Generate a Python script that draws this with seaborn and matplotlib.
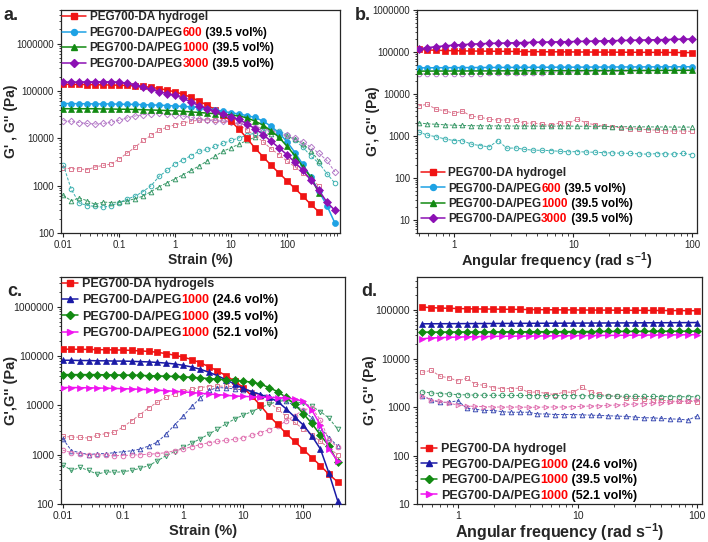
import numpy as np
import pandas as pd
import seaborn as sns
import matplotlib
matplotlib.use('Agg')
import matplotlib.pyplot as plt
from matplotlib.lines import Line2D

sns.set_style('ticks')
plt.rcParams['font.family'] = ['Liberation Sans', 'DejaVu Sans']
plt.rcParams['mathtext.default'] = 'regular'
plt.rcParams['axes.linewidth'] = 0.9
plt.rcParams['xtick.direction'] = 'out'
plt.rcParams['ytick.direction'] = 'out'

# strain sweep grid (%)
strain = [0.01, 0.0139, 0.0193, 0.0268, 0.0373, 0.0518, 0.072, 0.1, 0.139, 0.193, 0.268,
          0.373, 0.518, 0.72, 1.0, 1.39, 1.93, 2.68, 3.73, 5.18, 7.2, 10, 13.9, 19.3, 26.8,
          37.3, 51.8, 72, 100, 139, 193, 268, 373, 518, 720]

# panel a / c : G' and G'' vs strain
red_gp = [138000, 137000, 137000, 136000, 135000, 134000, 133000, 132000, 130000, 127000, 124000,
          119000, 112000, 104000, 95000, 85000, 73000, 61000, 50000, 40000, 31000, 23000, 15500,
          10000, 6200, 4100, 2700, 1850, 1270, 870, 600, 400, 280]
red_gpp = [2350, 2280, 2250, 2170, 2480, 2670, 2860, 3650, 4870, 6500, 9000, 11500, 14600, 17200,
           19200, 21000, 23000, 24000, 24500, 24500, 24000, 23000, 19000, 15000, 11500, 8500, 6000,
           4500, 3300, 2500, 1850, 1350, 1000]
cyan_gp = [54000, 54000, 53500, 53500, 53000, 53000, 53000, 52500, 52000, 52000, 51000, 50500,
           50000, 49000, 48000, 47000, 46000, 44500, 42000, 40000, 37000, 34500, 32500, 30000,
           27500, 23000, 18000, 13000, 8500, 5000, 2800, 1500, 760, 380, 163]
cyan_gpp = [2750, 830, 430, 380, 365, 350, 380, 440, 520, 600, 750, 1000, 1570, 2100, 2900, 3500,
            4300, 5300, 5800, 6700, 7800, 9000, 10200, 11500, 13000, 14500, 15000, 14500, 12000,
            9000, 6500, 4200, 3000, 1800, 1130]
green_gp = [42000, 42000, 42000, 42000, 42000, 41500, 41500, 41000, 41000, 40500, 40000, 39500,
            39000, 38500, 38000, 37000, 36000, 35000, 34000, 33000, 32000, 31000, 29500, 27000,
            23000, 19000, 14500, 10500, 6800, 4300, 2500, 1500, 700]
green_gpp = [620, 480, 550, 480, 400, 450, 440, 450, 480, 530, 600, 750, 950, 1150, 1400, 1700,
             2100, 2600, 3300, 4200, 5300, 6300, 7500, 9000, 10500, 12000, 12500, 12000, 11000,
             9500, 7500, 5500, 3300]
purple_gp = [152000, 153000, 154000, 155000, 155000, 155000, 155000, 153000, 145000, 134000,
             120000, 107000, 96000, 88000, 81000, 70000, 58000, 49000, 42000, 37000, 32000, 28000,
             25000, 20000, 16000, 12000, 8700, 6300, 4500, 3100, 2100, 1300, 800, 450, 300]
purple_gpp = [23700, 22600, 21500, 20500, 20000, 20500, 22000, 24000, 27000, 29500, 31500, 33000,
              33500, 33000, 31500, 29500, 27500, 25500, 24500, 23500, 23000, 22000, 20500, 19000,
              17500, 16000, 14500, 13000, 11500, 10000, 8200, 6500, 4800, 3400, 1950]
navy_gp = [82000, 82000, 81000, 81000, 80000, 80000, 79000, 79000, 78000, 77000, 76000, 74000,
           72000, 69000, 65000, 60000, 54000, 47000, 40000, 33000, 27000, 22000, 19000, 16500,
           14500, 12000, 8500, 5800, 4000, 2400, 1300, 420, 117]
navy_gpp = [2100, 1200, 1100, 1000, 1050, 1050, 1100, 1150, 1200, 1300, 1500, 1800, 2600, 4000,
            6000, 9500, 14000, 20000, 23000, 22500, 21500, 20500, 19000, 17000, 15500, 14000,
            12000, 10000, 8000, 5500, 3500, 2200, 1500]
pink_gp = [23000, 23000, 22800, 22700, 22500, 22300, 22000, 21800, 21500, 21200, 20800, 20300,
           19800, 19300, 18800, 18200, 17600, 17000, 16500, 16000, 15500, 15200, 15000, 14700,
           14500, 14300, 14000, 13500, 12000, 8000, 4000, 1300, 750]
pink_gpp = [1230, 1100, 1050, 1000, 1000, 980, 960, 960, 980, 1000, 1020, 1050, 1100, 1200, 1300,
            1450, 1600, 1750, 1850, 1950, 2050, 2200, 2450, 2800, 3200, 3800, 4800, 6200, 8000,
            9000, 5000, 2000, 1400]

# frequency sweep grid (rad/s)
freq = [0.5, 0.593, 0.704, 0.834, 0.99, 1.17, 1.39, 1.65, 1.96, 2.33, 2.76, 3.27, 3.88, 4.6,
        5.46, 6.48, 7.68, 9.12, 10.8, 12.8, 15.2, 18.1, 21.4, 25.4, 30.1, 35.7, 42.4, 50.3, 59.7,
        70.8, 84, 100]

# panel b / d : G' and G'' vs angular frequency
f_red_gp = [115000, 112000, 110000, 108500, 107500, 106500, 105500, 105000, 104500, 104000,
            103500, 103000, 102500, 102000, 101500, 101000, 101000, 100500, 100000, 100000, 99500,
            99500, 99000, 99000, 98500, 98500, 98000, 98000, 97500, 97500, 97000, 97000]
f_red_gpp = [5200, 5700, 4300, 4000, 3450, 3900, 2950, 2800, 2500, 2400, 2400, 2450, 2000, 2050,
             1900, 1800, 2050, 2000, 2550, 2050, 1850, 1700, 1650, 1550, 1500, 1480, 1400, 1380,
             1330, 1300, 1320, 1280]
f_cyan_gp = [42000, 42000, 42200, 42300, 42400, 42500, 42600, 42700, 42800, 42900, 43000, 43000,
             43100, 43200, 43300, 43400, 43500, 43500, 43600, 43700, 43800, 43800, 43900, 44000,
             44000, 44100, 44200, 44200, 44300, 44400, 44400, 44500]
f_cyan_gpp = [1250, 1050, 960, 850, 780, 770, 640, 590, 550, 780, 510, 520, 480, 460, 455, 450,
              430, 420, 425, 415, 410, 400, 395, 390, 385, 375, 370, 380, 375, 370, 390, 355]
f_green_gp = [35000, 35100, 35200, 35200, 35300, 35300, 35400, 35400, 35500, 35500, 35600, 35600,
              35700, 35700, 35800, 35800, 35900, 35900, 36000, 36000, 36100, 36100, 36200, 36200,
              36300, 36300, 36400, 36400, 36500, 36500, 36600, 36600]
f_green_gpp = [2050, 1950, 1900, 1850, 1800, 1780, 1760, 1750, 1740, 1740, 1730, 1730, 1720, 1720,
               1720, 1720, 1720, 1720, 1710, 1700, 1700, 1690, 1680, 1670, 1660, 1650, 1650, 1640,
               1640, 1630, 1630, 1630]
f_purple_gp = [118000, 127000, 134000, 140000, 146000, 150000, 154000, 157000, 160000, 162000,
               164000, 166000, 168000, 170000, 172000, 173000, 175000, 176000, 178000, 180000,
               182000, 184000, 186000, 188000, 190000, 192000, 194000, 196000, 198000, 200000,
               202000, 204000]
f_purple_gpp = [30000, 30000, 30000, 30100, 30200, 30300, 30500, 30700, 30900, 31100, 31300, 31500,
                31800, 32000, 32300, 32600, 32900, 33200, 33500, 33800, 34100, 34400, 34700, 35000,
                35300, 35600, 35900, 36200, 36500, 36800, 37100, 37400]
f_navy_gp = [52000, 52100, 52200, 52300, 52400, 52500, 52600, 52700, 52800, 52900, 53000, 53100,
             53200, 53300, 53400, 53500, 53600, 53700, 53800, 53900, 54000, 54100, 54200, 54300,
             54400, 54500, 54600, 54700, 54800, 54900, 55000, 55200]
f_navy_gpp = [1700, 1400, 1250, 1250, 1350, 950, 900, 850, 850, 800, 780, 780, 780, 720, 720, 700,
              700, 700, 690, 680, 670, 660, 650, 640, 620, 600, 600, 580, 570, 560, 540, 650]
f_pink_gp = [25600, 26500, 27000, 27400, 27700, 28000, 28200, 28400, 28600, 28800, 28900, 29000,
             29100, 29200, 29300, 29400, 29500, 29600, 29700, 29800, 29900, 30000, 30100, 30200,
             30300, 30400, 30500, 30600, 30700, 30800, 30900, 31000]
f_pink_gpp = [1700, 1400, 1300, 1200, 1100, 1050, 1030, 1020, 1000, 1000, 1000, 1000, 990, 990,
              1000, 1000, 1000, 1020, 1030, 1050, 1060, 1080, 1100, 1130, 1150, 1180, 1200, 1230,
              1260, 1300, 1330, 1380]

RED, RED_L = '#f01414', '#dc7890'
CYAN, CYAN_L = '#1ea2e4', '#3cb0b0'
GREEN, GREEN_L = '#128a12', '#3c9a6a'
PURPLE, PURPLE_L = '#8c10b4', '#b47ac8'
NAVY, NAVY_L = '#1a1aa6', '#4050b4'
MAG, MAG_L = '#f014f0', '#e070b0'


def curve(ax, x, y, color, marker, storage):
    df = pd.DataFrame({'x': x[:len(y)], 'y': y})
    if storage:
        sns.lineplot(data=df, x='x', y='y', ax=ax, color=color, marker=marker, markersize=4.3,
                     markeredgecolor=color, markeredgewidth=0.5, linewidth=1.1, legend=False,
                     zorder=3)
    else:
        sns.lineplot(data=df, x='x', y='y', ax=ax, color=color, marker=marker, markersize=3.3,
                     markerfacecolor='none', markeredgecolor=color, markeredgewidth=0.7,
                     linewidth=0.7, linestyle=(0, (3, 1.6)), legend=False, zorder=2)


def rich_legend(ax, handles, parts, fs, **kw):
    leg = ax.legend(handles, [p[0] for p in parts], frameon=False, borderpad=0, borderaxespad=0,
                    prop=dict(weight='bold', size=fs), **kw)
    for txt, p in zip(leg.get_texts(), parts):
        prev = txt
        for s, c in p[1:]:
            prev = ax.annotate(s, xy=(1, 0), xycoords=prev, va='bottom', ha='left', color=c,
                               fontsize=fs, fontweight='bold', zorder=10)
    return leg


def setup(ax, xlim, ylim, xticks, xlabels, yticks, fs_tick, xlabel, ylabel, fs_x, fs_y,
          ylab_x, xpad):
    ax.set_xscale('log')
    ax.set_yscale('log')
    ax.set_xlim(*xlim)
    ax.set_ylim(*ylim)
    ax.set_xticks(xticks)
    ax.set_xticklabels(xlabels)
    ax.set_yticks(yticks)
    ax.set_yticklabels([str(v) for v in yticks])
    ax.tick_params(which='major', length=3, width=0.8, labelsize=fs_tick, pad=2)
    ax.tick_params(which='minor', length=1.8, width=0.6)
    ax.set_xlabel(xlabel, fontsize=fs_x, fontweight='bold', labelpad=xpad)
    ax.set_ylabel(ylabel, fontsize=fs_y, fontweight='bold')
    ax.yaxis.set_label_coords(ylab_x, 0.5)
    for s in ax.spines.values():
        s.set_visible(True)
        s.set_linewidth(0.9)


def handle(color, marker):
    return Line2D([], [], color=color, marker=marker, markersize=4.3, markeredgecolor=color,
                  linewidth=1.1)


fig = plt.figure(figsize=(7.08, 5.42), dpi=100)
W, H = 708, 542
ax_a = fig.add_axes([61 / W, 1 - 233 / H, 279 / W, 223 / H])
ax_b = fig.add_axes([417 / W, 1 - 233 / H, 280 / W, 223 / H])
ax_c = fig.add_axes([61 / W, 1 - 504 / H, 284 / W, 227 / H])
ax_d = fig.add_axes([417 / W, 1 - 504 / H, 285 / W, 227 / H])
for ax in (ax_a, ax_b, ax_c, ax_d):
    ax.set_xscale('log')
    ax.set_yscale('log')

strain_ticks = [0.01, 0.1, 1, 10, 100]
strain_labels = ['0.01', '0.1', '1', '10', '100']
freq_ticks = [1, 10, 100]
freq_labels = ['1', '10', '100']
freq_label = 'Angular frequency (rad s$^{-1}$)'

# ---- a ----
for y, c, m in [(red_gpp, RED_L, 's'), (cyan_gpp, CYAN_L, 'o'), (green_gpp, GREEN_L, '^'),
                (purple_gpp, PURPLE_L, 'D')]:
    curve(ax_a, strain, y, c, m, False)
for y, c, m in [(red_gp, RED, 's'), (cyan_gp, CYAN, 'o'), (green_gp, GREEN, '^'),
                (purple_gp, PURPLE, 'D')]:
    curve(ax_a, strain, y, c, m, True)
setup(ax_a, (0.0091, 890), (100, 5.1e6), strain_ticks, strain_labels,
      [100, 1000, 10000, 100000, 1000000], 7, 'Strain (%)', "G' , G'' (Pa)", 10, 10,
      -0.154, 2)

# ---- b ----
for y, c, m in [(f_red_gpp, RED_L, 's'), (f_cyan_gpp, CYAN_L, 'o'), (f_green_gpp, GREEN_L, '^'),
                (f_purple_gpp, PURPLE_L, 'o')]:
    curve(ax_b, freq, y, c, m, False)
for y, c, m in [(f_red_gp, RED, 's'), (f_cyan_gp, CYAN, 'o'), (f_green_gp, GREEN, '^'),
                (f_purple_gp, PURPLE, 'D')]:
    curve(ax_b, freq, y, c, m, True)
setup(ax_b, (0.485, 110), (4.9, 1e6), freq_ticks, freq_labels,
      [10, 100, 1000, 10000, 100000, 1000000], 7, freq_label, "G', G'' (Pa)", 10.5, 10,
      -0.132, 0)

# ---- c ----
for y, c, m in [(red_gpp, RED_L, 's'), (navy_gpp, NAVY_L, '^'), (green_gpp, GREEN_L, 'v'),
                (pink_gpp, MAG_L, 'o')]:
    curve(ax_c, strain, y, c, m, False)
for y, c, m in [(red_gp, RED, 's'), (navy_gp, NAVY, '^'), (green_gp, GREEN, 'D'),
                (pink_gp, MAG, '>')]:
    curve(ax_c, strain, y, c, m, True)
setup(ax_c, (0.0093, 495), (100, 4e6), strain_ticks, strain_labels,
      [100, 1000, 10000, 100000, 1000000], 7.5, 'Strain (%)', "G',G'' (Pa)", 10.5, 10.5,
      -0.151, 2)

# ---- d ----
for y, c, m in [(f_red_gpp, RED_L, 's'), (f_navy_gpp, NAVY_L, '^'), (f_green_gpp, GREEN_L, 'o'),
                (f_pink_gpp, MAG_L, '>')]:
    curve(ax_d, freq, y, c, m, False)
for y, c, m in [(f_red_gp, RED, 's'), (f_navy_gp, NAVY, '^'), (f_green_gp, GREEN, 'D'),
                (f_pink_gp, MAG, '>')]:
    curve(ax_d, freq, y, c, m, True)
setup(ax_d, (0.45, 110), (10, 4.8e5), freq_ticks, freq_labels,
      [10, 100, 1000, 10000, 100000], 7.5, freq_label, "G', G'' (Pa)", 11.5, 10,
      -0.14, 0)

K = 'black'
parts_ab = [('PEG700-DA hydrogel',),
            ('PEG700-DA/PEG', ('600', 'red'), (' (39.5 vol%)', K)),
            ('PEG700-DA/PEG', ('1000', 'red'), (' (39.5 vol%)', K)),
            ('PEG700-DA/PEG', ('3000', 'red'), (' (39.5 vol%)', K))]
h_ab = [handle(RED, 's'), handle(CYAN, 'o'), handle(GREEN, '^'), handle(PURPLE, 'D')]
rich_legend(ax_a, h_ab, parts_ab, 8.5, loc='upper left', bbox_to_anchor=(0.005, 0.995),
            handlelength=2.0, handletextpad=0.3, labelspacing=0.31)
rich_legend(ax_b, h_ab, parts_ab, 8.5, loc='lower left', bbox_to_anchor=(0.014, 0.035),
            handlelength=2.0, handletextpad=0.3, labelspacing=0.28)

parts_cd = [('PEG700-DA hydrogels',),
            ('PEG700-DA/PEG', ('1000', 'red'), (' (24.6 vol%)', K)),
            ('PEG700-DA/PEG', ('1000', 'red'), (' (39.5 vol%)', K)),
            ('PEG700-DA/PEG', ('1000', 'red'), (' (52.1 vol%)', K))]
h_cd = [handle(RED, 's'), handle(NAVY, '^'), handle(GREEN, 'D'), handle(MAG, '>')]
rich_legend(ax_c, h_cd, parts_cd, 9, loc='upper left', bbox_to_anchor=(0.003, 0.995),
            handlelength=1.3, handletextpad=0.3, labelspacing=0.34)
parts_d = [('PEG700-DA hydrogel',)] + parts_cd[1:]
rich_legend(ax_d, h_cd, parts_d, 9, loc='lower left', bbox_to_anchor=(0.014, 0.01),
            handlelength=1.3, handletextpad=0.3, labelspacing=0.28)

for lab, x, y in [('a.', 4, 20), ('b.', 355, 20), ('c.', 7, 296), ('d.', 361, 296)]:
    fig.text(x / W, 1 - y / H, lab, fontsize=13, fontweight='bold', va='baseline')

fig.canvas.draw()
fig.savefig('out.png', dpi=100)
